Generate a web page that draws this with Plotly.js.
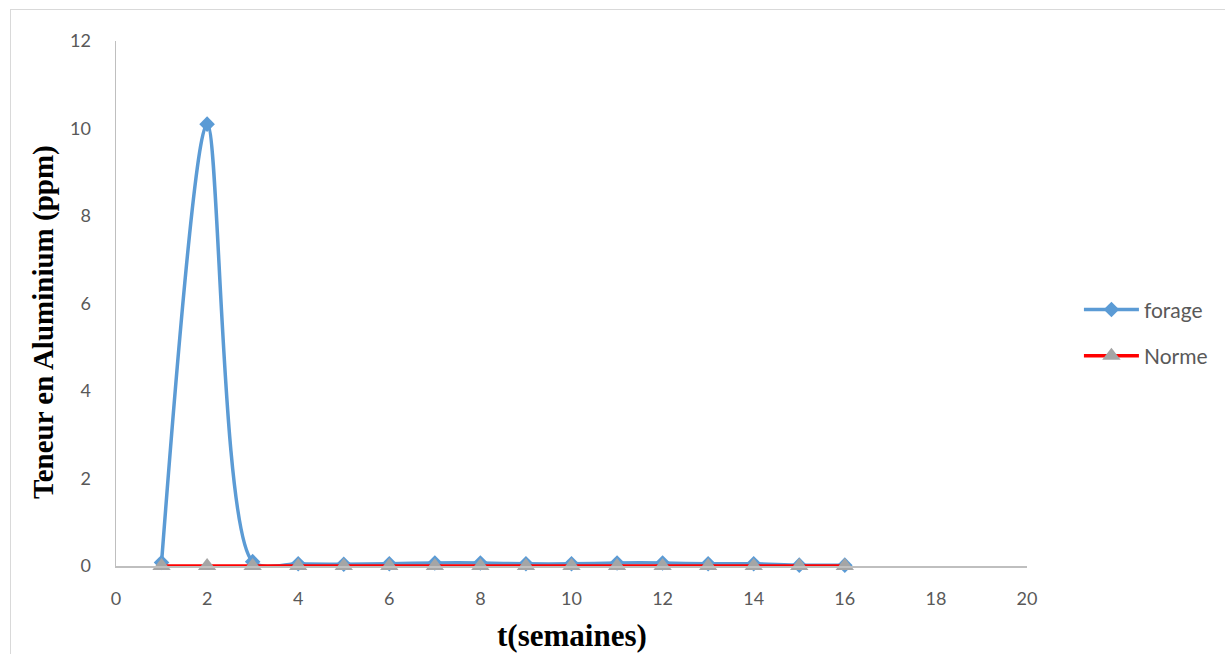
<!DOCTYPE html>
<html>
<head>
<meta charset="utf-8">
<script src="https://cdn.plot.ly/plotly-3.0.1.min.js"></script>
<style>
html,body{margin:0;padding:0;background:#fff;}
#frame{position:absolute;left:10px;top:9px;width:1225px;height:660px;border:1.5px solid #d9d9d9;box-sizing:border-box;}
#chart{position:absolute;left:0;top:0;width:1225px;height:654px;}
</style>
</head>
<body>
<div id="frame"></div>
<div id="chart"></div>
<script>
const weeks = [1,2,3,4,5,6,7,8,9,10,11,12,13,14,15,16];
const forage = [0.08,10.1,0.1,0.05,0.04,0.05,0.07,0.07,0.05,0.05,0.07,0.07,0.05,0.05,0.02,0.02];
const norme = [0,0,0,0,0,0,0,0,0,0,0,0,0,0,0,0];
const xTicks = [0,2,4,6,8,10,12,14,16,18,20];
const yTicks = [0,2,4,6,8,10,12];
const xTitle = 't(semaines)';
const yTitle = 'Teneur en Aluminium (ppm)';

const tickFont = {family: 'Lato, "Liberation Sans", sans-serif', size: 18, color: '#595959'};
const titleFam = '"Liberation Serif", "Times New Roman", serif';

const traces = [
  {x: weeks, y: forage, name: 'forage', legendgroup: 'a', type: 'scatter', mode: 'lines+markers', cliponaxis: false,
   line: {color: '#5b9bd5', width: 3.5, shape: 'spline', smoothing: 0.8},
   marker: {symbol: 'diamond', size: 12, color: '#5b9bd5'}},
  {x: weeks, y: norme, name: 'Norme', legendgroup: 'b', type: 'scatter', mode: 'lines+markers', cliponaxis: false,
   line: {color: '#ff0000', width: 3.5},
   marker: {symbol: 'triangle-up', size: 16, color: '#a5a5a5'}}
];

const layout = {
  width: 1225, height: 654,
  margin: {l: 116, r: 198, t: 41, b: 88},
  paper_bgcolor: 'rgba(0,0,0,0)', plot_bgcolor: 'rgba(0,0,0,0)',
  showlegend: true,
  legend: {x: 1.057, y: 0.444, xanchor: 'left', yanchor: 'middle',
           font: {family: 'Lato, "Liberation Sans", sans-serif', size: 21, color: '#595959'},
           tracegroupgap: 16, itemwidth: 55},
  xaxis: {range: [0, 20], tickvals: xTicks, ticktext: xTicks.map(String),
          showgrid: false, zeroline: false, showline: true, linecolor: '#bfbfbf', linewidth: 1.5,
          ticks: '', ticklen: 0, ticklabelstandoff: 16,
          tickfont: tickFont},
  yaxis: {range: [0, 12], tickvals: yTicks, ticktext: yTicks.map(String),
          showgrid: false, zeroline: false, showline: true, linecolor: '#bfbfbf', linewidth: 1.5,
          ticks: '', ticklen: 0, ticklabelstandoff: 20,
          tickfont: tickFont},
  annotations: [
    {text: '<b>' + xTitle + '</b>', xref: 'paper', yref: 'paper', showarrow: false,
     x: (572 - 116) / 911, y: -(635 - 566) / 525, xanchor: 'center', yanchor: 'middle',
     font: {family: titleFam, size: 31, color: '#000'}},
    {text: '<b>' + yTitle + '</b>', xref: 'paper', yref: 'paper', showarrow: false, textangle: -90,
     x: -(116 - 43) / 911, y: (566 - 322) / 525, xanchor: 'center', yanchor: 'middle',
     font: {family: titleFam, size: 29, color: '#000'}}
  ]
};

Plotly.newPlot('chart', traces, layout, {displayModeBar: false, staticPlot: true});
</script>
</body>
</html>
